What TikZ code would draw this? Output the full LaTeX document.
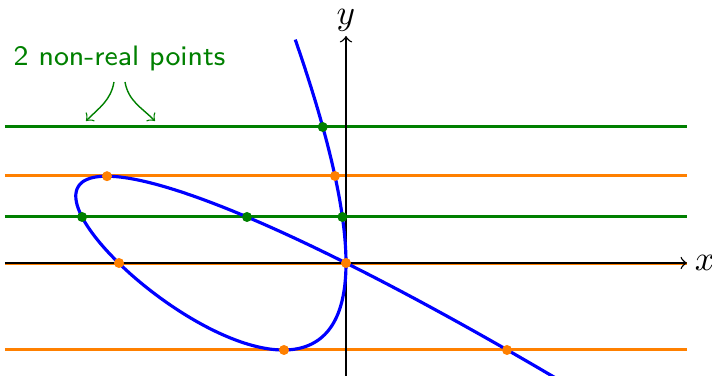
\documentclass[tikz,border=0pt]{standalone}
\definecolor{mygreen}{RGB}{0,128,0}
\definecolor{myorange}{RGB}{255,128,0}
\begin{document}
\begin{tikzpicture}[x=1cm,y=1cm,
  declare function={
    qq(\a)=cos(\a)*(cos(\a)+2*sin(\a));
    cc(\a)=0.44*cos(\a)*cos(\a)*cos(\a)+1.331*cos(\a)*cos(\a)*sin(\a)+1.351*cos(\a)*sin(\a)*sin(\a)+0.4236*sin(\a)*sin(\a)*sin(\a);
    rr(\a)=-qq(\a)/cc(\a);
  },
  gline/.style={mygreen, line width=0.86pt},
  oline/.style={myorange, line width=0.86pt},
  gdot/.style={circle, fill=mygreen, inner sep=0pt, minimum size=0.1cm},
  odot/.style={circle, fill=myorange, inner sep=0pt, minimum size=0.1cm},
  axis/.style={line width=0.4pt, ->},
  curve/.style={blue, line width=0.9pt},
  note/.style={mygreen, line width=0.4pt, ->},
]
\useasboundingbox (-3.46,-1.13) rectangle (3.66,2.63);
\clip (-3.46,-1.13) rectangle (3.66,2.63);
% horizontal lines
\coordinate (l1) at (-3.41,1.36); \coordinate (r1) at (3.41,1.36);
\coordinate (l2) at (-3.41,0.87); \coordinate (r2) at (3.41,0.87);
\coordinate (l3) at (-3.41,0.46); \coordinate (r3) at (3.41,0.46);
\coordinate (l4) at (-3.41,-0.008); \coordinate (r4) at (3.41,-0.008);
\coordinate (l5) at (-3.41,-0.87); \coordinate (r5) at (3.41,-0.87);
\draw[gline] (l1) -- (r1);
\draw[oline] (l2) -- (r2);
\draw[gline] (l3) -- (r3);
\draw[oline] (l4) -- (r4);
\draw[oline] (l5) -- (r5);
% axes
\coordinate (xl) at (-3.41,0); \coordinate (xr) at (3.41,0);
\coordinate (yb) at (0,-1.13); \coordinate (yt) at (0,2.27);
\draw[axis] (xl) -- (xr);
\draw[axis] (yb) -- (yt);
\node[font=\fontsize{10}{12}\selectfont] (xlab) at (3.59,0) {$x$};
\node[font=\fontsize{10}{12}\selectfont] (ylab) at (0,2.43) {$y$};
% curve
\draw[curve] plot[domain=-28.9:102.8, samples=800, variable=\a] ({rr(\a)*cos(\a)},{rr(\a)*sin(\a)});
% dots
\node[gdot] (g1) at (-0.233,1.36) {};
\node[odot] (o1) at (-0.110,0.87) {};
\node[odot] (o2) at (-2.39,0.868) {};
\node[gdot] (g2) at (-0.036,0.46) {};
\node[gdot] (g3) at (-2.639,0.46) {};
\node[gdot] (g4) at (-0.99,0.46) {};
\node[odot] (o3) at (0,0) {};
\node[odot] (o4) at (-2.27,0) {};
\node[odot] (o5) at (-0.62,-0.87) {};
\node[odot] (o6) at (1.61,-0.87) {};
% label
\node[mygreen, font=\sffamily\fontsize{8}{10}\selectfont] (lab) at (-2.265,2.05) {2 non-real points};
\coordinate (a1s) at (-2.32,1.81); \coordinate (a1e) at (-2.60,1.42);
\coordinate (a2s) at (-2.21,1.81); \coordinate (a2e) at (-1.91,1.42);
\draw[note] (a1s) to[out=-100,in=45] (a1e);
\draw[note] (a2s) to[out=-80,in=135] (a2e);
\end{tikzpicture}
\end{document}
